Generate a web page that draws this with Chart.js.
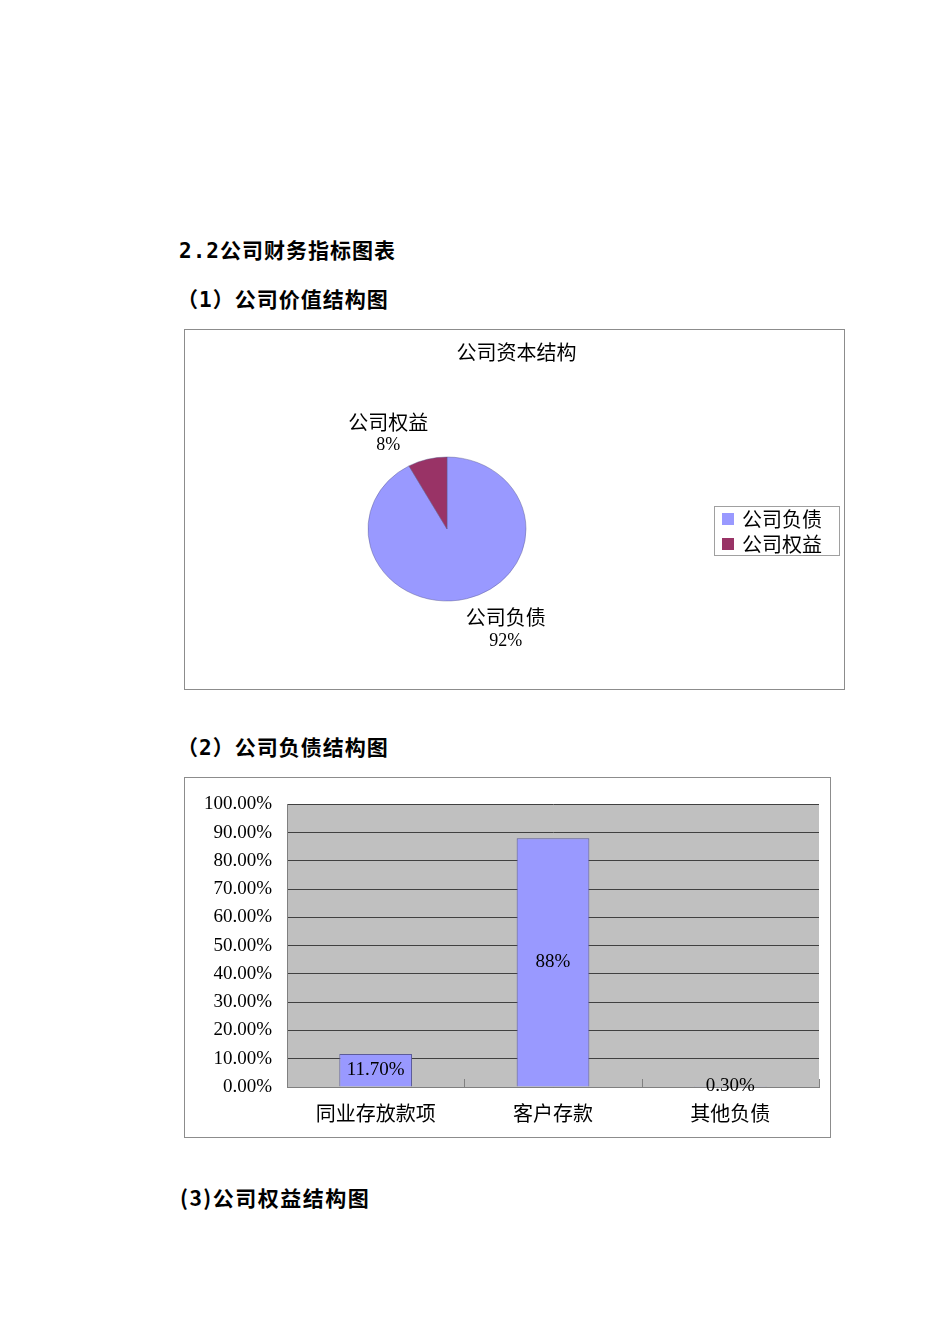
<!DOCTYPE html>
<html>
<head>
<meta charset="utf-8">
<script src="https://cdn.jsdelivr.net/npm/chart.js@4/dist/chart.umd.min.js"></script>
<style>
  body { margin: 0; background: #fff; width: 950px; height: 1344px; position: relative; }
  .h { position: absolute; font-family: "DejaVu Sans Mono", "Noto Sans CJK SC", sans-serif; font-weight: bold;
       font-size: 21px; letter-spacing: 1px; line-height: 24px; color: #000; white-space: nowrap; }
  .box { position: absolute; border: 1px solid #8c8c8c; background: #fff; }
  .box canvas { display: block; }
</style>
</head>
<body>
<div class="h" style="left:179px; top:239px;">2.2公司财务指标图表</div>
<div class="h" style="left:177px; top:288px;">（1）公司价值结构图</div>
<div class="box" style="left:184px; top:329px; width:659px; height:359px;">
  <canvas id="pie" width="659" height="359"></canvas>
</div>
<div class="h" style="left:177px; top:736px;">（2）公司负债结构图</div>
<div class="box" style="left:184px; top:777px; width:645px; height:359px;">
  <canvas id="bar" width="645" height="359"></canvas>
</div>
<div class="h" style="left:180px; top:1185px; font-family:'Liberation Sans Narrow','Noto Sans CJK SC',sans-serif; letter-spacing:1.5px;">(3)公司权益结构图</div>

<script>
// chart data
const pieTitle = '公司资本结构';
const pieNames = ['公司负债', '公司权益'];
const pieValues = [92, 8];
const pieColors = ['#9999FF', '#993366'];

const barNames = ['同业存放款项', '客户存款', '其他负债'];
const barValues = [11.7, 88, 0.3];
const barLabels = ['11.70%', '88%', '0.30%'];

const CJK = '"Noto Sans CJK SC", sans-serif';
const NUM = '"Liberation Serif", "Noto Sans CJK SC", serif';

(function(){
  // pie is slightly flattened in the original, squash it vertically
  const squash = {
    id: 'squash',
    beforeDatasetsDraw(chart) {
      const arc = chart.getDatasetMeta(0).data[0];
      const ctx = chart.ctx;
      ctx.save();
      ctx.translate(arc.x, arc.y);
      ctx.scale(1, 72 / 79);
      ctx.translate(-arc.x, -arc.y);
    },
    afterDatasetsDraw(chart) { chart.ctx.restore(); }
  };

  // title, slice labels and the framed legend
  const pieText = {
    id: 'pieText',
    afterDraw(chart) {
      const ctx = chart.ctx;
      const arcs = chart.getDatasetMeta(0).data;
      const total = pieValues.reduce((a, b) => a + b, 0);
      ctx.save();
      ctx.fillStyle = '#000';
      ctx.textBaseline = 'middle';

      ctx.textAlign = 'center';
      ctx.font = '20px ' + CJK;
      ctx.fillText(pieTitle, chart.width / 2 + 2, 22);

      arcs.forEach((arc, i) => {
        const mid = (arc.startAngle + arc.endAngle) / 2;
        const c = Math.cos(mid), s = Math.sin(mid);
        const x = arc.x + c * 100 + Math.sign(c) * 34;
        const y = arc.y + s * 101 + 2;
        ctx.font = '20px ' + CJK;
        ctx.fillText(pieNames[i], x, y - 11);
        ctx.font = '18px ' + NUM;
        ctx.fillText(Math.round(pieValues[i] / total * 100) + '%', x, y + 12);
      });

      // legend
      const cy = arcs[0].y;
      const fl = chart.width - 130;
      ctx.font = '20px ' + CJK;
      const tw = Math.max(...pieNames.map(n => ctx.measureText(n).width));
      const fr = fl + 28 + tw + 17;
      ctx.strokeStyle = '#a0a0a0';
      ctx.lineWidth = 1;
      ctx.strokeRect(fl + 0.5, Math.round(cy - 23) + 0.5, Math.round(fr - fl), 49);
      ctx.textAlign = 'left';
      pieNames.forEach((n, i) => {
        const iy = cy - 10 + i * 25;
        ctx.fillStyle = pieColors[i];
        ctx.fillRect(fl + 8, Math.round(iy - 6), 12, 12);
        ctx.fillStyle = '#000';
        ctx.fillText(n, fl + 28, iy);
      });
      ctx.restore();
    }
  };

  new Chart(document.getElementById('pie'), {
    type: 'pie',
    data: {
      labels: pieNames,
      datasets: [{
        data: pieValues,
        backgroundColor: pieColors,
        borderColor: 'rgba(90,90,140,0.45)',
        borderWidth: 1,
        radius: 79
      }]
    },
    options: {
      responsive: false,
      devicePixelRatio: 1,
      animation: false,
      layout: { padding: { top: 44, bottom: 5, right: 135, left: 0 } },
      plugins: {
        legend: { display: false },
        tooltip: { enabled: false }
      }
    },
    plugins: [squash, pieText]
  });

  const plotBg = {
    id: 'plotBg',
    beforeDraw(chart) {
      const a = chart.chartArea, ctx = chart.ctx;
      ctx.save();
      ctx.fillStyle = '#C0C0C0';
      ctx.fillRect(a.left, a.top, a.right - a.left, a.bottom - a.top);
      ctx.restore();
    }
  };

  const catTicks = {
    id: 'catTicks',
    afterDraw(chart) {
      const xs = chart.scales.x, a = chart.chartArea, ctx = chart.ctx;
      ctx.save();
      ctx.strokeStyle = '#808080';
      ctx.lineWidth = 1;
      for (let i = 1; i <= barNames.length; i++) {
        const x = Math.round(xs.getPixelForValue(i - 0.5)) + 0.5;
        ctx.beginPath();
        ctx.moveTo(x, a.bottom);
        ctx.lineTo(x, a.bottom - 8);
        ctx.stroke();
      }
      ctx.restore();
    }
  };

  const barText = {
    id: 'barText',
    afterDatasetsDraw(chart) {
      const ctx = chart.ctx;
      chart.getDatasetMeta(0).data.forEach((bar, i) => {
        ctx.save();
        ctx.fillStyle = '#000';
        ctx.font = '19px ' + NUM;
        ctx.textAlign = 'center';
        ctx.textBaseline = 'middle';
        ctx.fillText(barLabels[i], bar.x, (bar.y + bar.base) / 2);
        ctx.restore();
      });
    }
  };

  new Chart(document.getElementById('bar'), {
    type: 'bar',
    data: {
      labels: barNames,
      datasets: [{
        data: barValues,
        backgroundColor: '#9999FF',
        borderColor: '#5c5c99',
        borderWidth: 1,
        categoryPercentage: 1,
        barPercentage: 0.41
      }]
    },
    options: {
      responsive: false,
      devicePixelRatio: 1,
      animation: false,
      layout: { padding: { top: 24, right: 11, left: 0, bottom: 0 } },
      plugins: { legend: { display: false }, tooltip: { enabled: false } },
      scales: {
        x: {
          grid: { display: false },
          border: { display: true, color: '#808080', width: 1 },
          ticks: { color: '#000', padding: 6, font: { family: CJK, size: 20 } },
          afterFit(s) { s.height = 50; }
        },
        y: {
          min: 0, max: 100,
          grid: { color: '#404040', lineWidth: 1, drawTicks: false },
          border: { display: true, color: '#808080', width: 1 },
          ticks: {
            stepSize: 10, color: '#000', padding: 15,
            font: { family: NUM, size: 19 },
            callback: v => v.toFixed(2) + '%'
          },
          afterFit(s) { s.width = 102; }
        }
      }
    },
    plugins: [plotBg, catTicks, barText]
  });
})();
</script>
</body>
</html>
